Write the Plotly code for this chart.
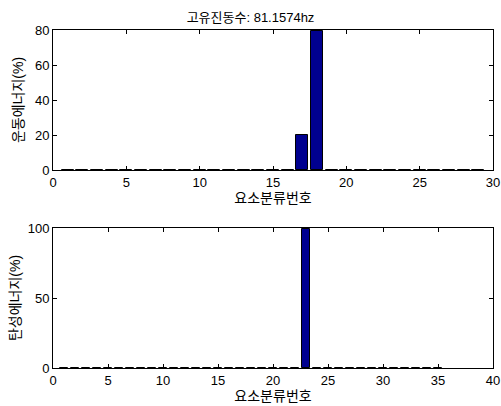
import plotly.graph_objects as go
from plotly.subplots import make_subplots

# Kinetic energy share per element (%)
kin_elements = list(range(1, 30))
kin_energy = [0.2] * 29
kin_energy[16] = 20.2   # element 17
kin_energy[17] = 79.5   # element 18

# Strain energy share per element (%)
str_elements = list(range(1, 36))
str_energy = [0.2] * 35
str_energy[22] = 99.6   # element 23

title_text = "고유진동수: 81.1574hz"
kin_ylabel = "운동에너지(%)"
str_ylabel = "탄성에너지(%)"
xlabel = "요소분류번호"

BAR_COLOR = "#00008F"
FONT = "Liberation Sans, Noto Sans CJK KR, sans-serif"

fig = make_subplots(rows=2, cols=1, vertical_spacing=0.0)

fig.add_trace(go.Bar(x=kin_elements, y=kin_energy, width=0.8,
                     marker=dict(color=BAR_COLOR, line=dict(color="black", width=1))),
              row=1, col=1)
fig.add_trace(go.Bar(x=str_elements, y=str_energy, width=0.8,
                     marker=dict(color=BAR_COLOR, line=dict(color="black", width=1))),
              row=2, col=1)

axis_style = dict(showline=True, linecolor="black", linewidth=1, mirror="ticks",
                  ticks="inside", ticklen=4, tickcolor="black", showgrid=False,
                  zeroline=False, ticklabeloverflow="allow", automargin=False,
                  tickfont=dict(size=13, color="black", family=FONT))

fig.update_xaxes(**axis_style)
fig.update_yaxes(**axis_style)

fig.update_xaxes(range=[0, 30], tickvals=[0, 5, 10, 15, 20, 25, 30], row=1, col=1,
                 title=dict(text=xlabel, standoff=0, font=dict(size=14, family=FONT)))
fig.update_yaxes(range=[0, 80], tickvals=[0, 20, 40, 60, 80], row=1, col=1,
                 domain=[0.5858, 1.0],
                 title=dict(text=kin_ylabel, standoff=8, font=dict(size=14, family=FONT)))
fig.update_xaxes(range=[0, 40], tickvals=[0, 5, 10, 15, 20, 25, 30, 35, 40], row=2, col=1,
                 title=dict(text=xlabel, standoff=0, font=dict(size=14, family=FONT)))
fig.update_yaxes(range=[0, 100], tickvals=[0, 50, 100], row=2, col=1,
                 domain=[0.0, 0.4142],
                 title=dict(text=str_ylabel, standoff=3, font=dict(size=14, family=FONT)))

fig.update_layout(
    width=501, height=406,
    margin=dict(l=53, r=8, t=30, b=38, autoexpand=False),
    plot_bgcolor="white", paper_bgcolor="white",
    showlegend=False, bargap=0,
    font=dict(family=FONT, color="black", size=14),
    title=dict(text=title_text, x=0.5, xanchor="center", y=1 - 17 / 406,
               yanchor="middle", font=dict(size=13, family=FONT)),
)

fig.write_html("out.html")
